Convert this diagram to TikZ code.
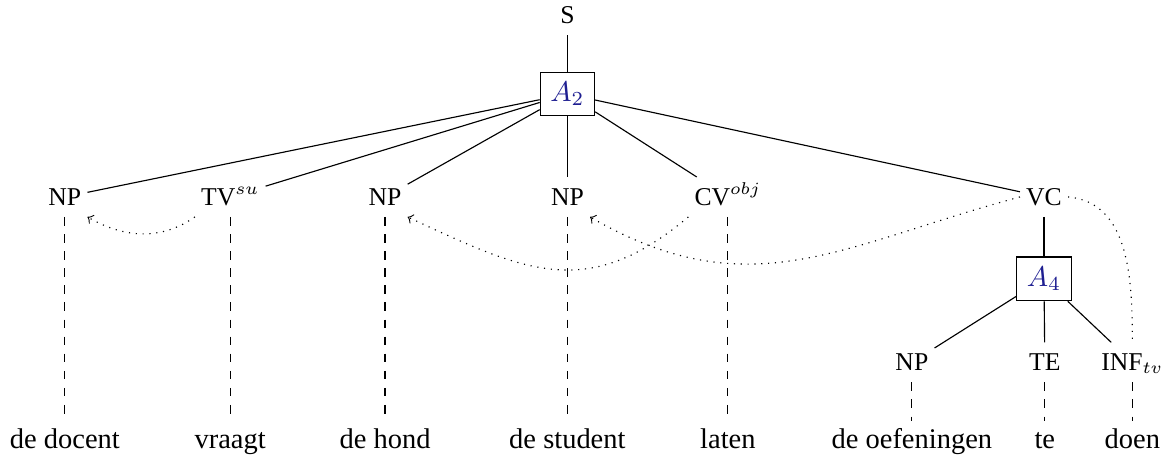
\documentclass[tikz,border=0pt]{standalone}
\usepackage{fontspec}
\setmainfont{Liberation Serif}
\usetikzlibrary{positioning}
\definecolor{boxblue}{RGB}{30,30,145}

\begin{document}
\begin{tikzpicture}[
    node distance=3cm,
    cat/.style={font=\small, inner sep=2pt, text height=1.7ex, text depth=0.4ex},
    word/.style={inner sep=2pt, text height=1.6ex, text depth=0.3ex},
    abox/.style={rectangle, draw, minimum width=0.67cm, minimum height=0.54cm, text=boxblue, inner sep=1pt},
    link/.style={dotted, ->},
    lex/.style={dashed}
]
\useasboundingbox (0,0) rectangle (14.41,-5.66);

% Root and first rule
\node[cat] (s) at (7.00,-0.19) {S};
\node[abox] (a2) at (7.00,-1.16) {$A_2$};

% Daughters of A2
\node[cat] (npdoc) at (0.80,-2.43) {NP};
\node[cat] (tvsu) at (2.84,-2.43) {TV$^{su}$};
\node[cat] (nphond) at (4.75,-2.43) {NP};
\node[cat] (npstud) at (7.00,-2.43) {NP};
\node[cat] (cvobj) at (8.98,-2.43) {CV$^{obj}$};
\node[cat] (vc) at (12.88,-2.43) {VC};

% Verbal cluster
\node[abox] (a4) at (12.88,-3.44) {$A_4$};
\node[cat] (npoef) at (11.25,-4.47) {NP};
\node[cat] (te) at (12.89,-4.47) {TE};
\node[cat] (inf) at (13.97,-4.47) {INF$_{tv}$};

% Words
\node[word, below of=npdoc] (wdoc) {de docent};
\node[word, below of=tvsu] (wvraagt) {vraagt};
\node[word, below of=nphond] (whond) {de hond};
\node[word, below of=npstud] (wstud) {de student};
\node[word, below of=cvobj] (wlaten) {laten};
\node[word, below of=npoef, node distance=0.96cm] (woef) {de oefeningen};
\node[word, below of=te, node distance=0.96cm] (wte) {te};
\node[word, below of=inf, node distance=0.96cm] (wdoen) {doen};

% Tree edges
\draw (s) -- (a2);
\draw (a2) -- (npdoc);
\draw (a2) -- (tvsu);
\draw (a2) -- (nphond);
\draw (a2) -- (npstud);
\draw (a2) -- (cvobj);
\draw (a2) -- (vc);
\draw (vc) -- (a4);
\draw (a4) -- (npoef);
\draw (a4) -- (te);
\draw (a4) -- (inf);

% Lexical links
\draw[lex] (npdoc) -- (wdoc);
\draw[lex] (tvsu) -- (wvraagt);
\draw[lex] (nphond) -- (whond);
\draw[lex] (npstud) -- (wstud);
\draw[lex] (cvobj) -- (wlaten);
\draw[lex] (npoef) -- (woef);
\draw[lex] (te) -- (wte);
\draw[lex] (inf) -- (wdoen);

% Dependencies
\draw[link] (tvsu.south west) to[out=-145, in=-30] (npdoc.south east);
\draw[link] (cvobj.south west) to[out=-140, in=-25, looseness=1.2] (nphond.south east);
\draw[link] (vc.west) to[out=195, in=-30, looseness=1.1] (npstud.south east);
\draw[dotted] (vc.east) to[out=-5, in=90] (inf.north);

\end{tikzpicture}
\end{document}
